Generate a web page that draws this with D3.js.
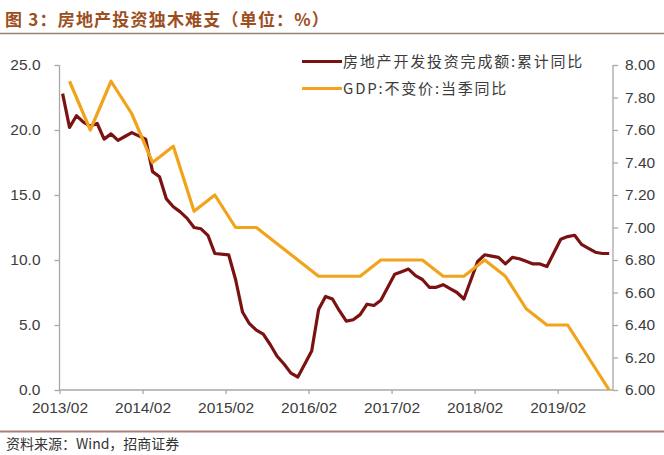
<!DOCTYPE html>
<html><head><meta charset="utf-8">
<script src="https://cdnjs.cloudflare.com/ajax/libs/d3/7.8.5/d3.min.js"></script>
<style>body{margin:0;background:#fff;}svg{display:block;}</style>
</head><body>
<script>
// ---- data ----
const invDates = ["2013/02","2013/03","2013/04","2013/05","2013/06","2013/07","2013/08","2013/09","2013/10","2013/11","2013/12",
"2014/02","2014/03","2014/04","2014/05","2014/06","2014/07","2014/08","2014/09","2014/10","2014/11","2014/12",
"2015/02","2015/03","2015/04","2015/05","2015/06","2015/07","2015/08","2015/09","2015/10","2015/11","2015/12",
"2016/02","2016/03","2016/04","2016/05","2016/06","2016/07","2016/08","2016/09","2016/10","2016/11","2016/12",
"2017/02","2017/03","2017/04","2017/05","2017/06","2017/07","2017/08","2017/09","2017/10","2017/11","2017/12",
"2018/02","2018/03","2018/04","2018/05","2018/06","2018/07","2018/08","2018/09","2018/10","2018/11","2018/12",
"2019/02","2019/03","2019/04","2019/05","2019/06","2019/07","2019/08","2019/09"];
const invValues = [22.8,20.2,21.1,20.6,20.3,20.5,19.3,19.7,19.2,19.5,19.8,
19.3,16.8,16.4,14.7,14.1,13.7,13.2,12.5,12.4,11.9,10.5,
10.4,8.5,6.0,5.1,4.6,4.3,3.5,2.6,2.0,1.3,1.0,
3.0,6.2,7.2,7.0,6.1,5.3,5.4,5.8,6.6,6.5,6.9,
8.9,9.1,9.3,8.8,8.5,7.9,7.9,8.1,7.8,7.5,7.0,
9.9,10.4,10.3,10.2,9.7,10.2,10.1,9.9,9.7,9.7,9.5,
11.6,11.8,11.9,11.2,10.9,10.6,10.5,10.5];
const gdpDates = ["2013/03","2013/06","2013/09","2013/12","2014/03","2014/06","2014/09","2014/12",
"2015/03","2015/06","2015/09","2015/12","2016/03","2016/06","2016/09","2016/12",
"2017/03","2017/06","2017/09","2017/12","2018/03","2018/06","2018/09","2018/12",
"2019/03","2019/06","2019/09"];
const gdpValues = [7.9,7.6,7.9,7.7,7.4,7.5,7.1,7.2,7.0,7.0,6.9,6.8,6.7,6.7,6.7,6.8,6.8,6.8,6.7,6.7,6.8,6.7,6.5,6.4,6.4,6.2,6.0];
const xTickLabels = ["2013/02","2014/02","2015/02","2016/02","2017/02","2018/02","2019/02"];
const leftTicks = [0,5,10,15,20,25];
const rightTicks = [6.0,6.2,6.4,6.6,6.8,7.0,7.2,7.4,7.6,7.8,8.0];
const seriesNames = ["房地产开发投资完成额:累计同比","GDP:不变价:当季同比"];
const titleText = "图 3：房地产投资独木难支（单位：%）";
const sourceText = "资料来源：Wind，招商证券";

// ---- layout ----
const W = 664, H = 455;
const colors = ["#7a1212", "#f2a31c"];
const monthIdx = s => { const [y,m] = s.split("/").map(Number); return (y-2013)*12 + (m-2); };

const svg = d3.select("body").append("svg").attr("width", W).attr("height", H);
const x = d3.scaleLinear().domain([0, 80]).range([59.5, 613]);
const yL = d3.scaleLinear().domain([0, 25]).range([390, 65]);
const yR = d3.scaleLinear().domain([6, 8]).range([390, 65]);
const axisColor = "#a8a8a8", textColor = "#3c3c3c";
const numFont = "'Liberation Sans', Arial, sans-serif";
const cjkFont = "'Noto Sans CJK SC', 'Liberation Sans', sans-serif";

// title
svg.append("text").attr("x", 5).attr("y", 26).text(titleText)
  .attr("font-family", cjkFont).attr("font-weight", 700).attr("font-size", 17)
  .attr("letter-spacing", 1.2).attr("fill", "#9c4e1e");
svg.append("line").attr("x1", 0).attr("x2", W).attr("y1", 33.5).attr("y2", 33.5)
  .attr("stroke", "#9a8070").attr("stroke-width", 1.5);

// axes
const gL = svg.append("g").attr("transform", "translate(59.5,0)")
  .call(d3.axisLeft(yL).tickValues(leftTicks).tickFormat(d3.format(".1f")).tickSize(5).tickPadding(14));
const gR = svg.append("g").attr("transform", "translate(613,0)")
  .call(d3.axisRight(yR).tickValues(rightTicks).tickFormat(d3.format(".2f")).tickSize(5).tickPadding(7));
const gX = svg.append("g").attr("transform", "translate(0,390)")
  .call(d3.axisBottom(x).tickValues(xTickLabels.map(monthIdx)).tickFormat((d,i) => xTickLabels[i]).tickSize(4).tickPadding(8));
[gL, gR, gX].forEach(g => {
  g.selectAll("path").attr("stroke", axisColor).attr("stroke-width", 1.3);
  g.selectAll("line").attr("stroke", axisColor).attr("stroke-width", 1.3);
  g.selectAll("text").attr("font-family", numFont).attr("font-size", 15.5).attr("fill", textColor);
});
gL.select("path").attr("d", "M0,65V390");
gR.select("path").attr("d", "M0,65V390");
gX.select("path").attr("d", "M59.5,0H613");

// lines
const lineL = d3.line().x(d => x(d[0] + 0.45)).y(d => yL(d[1]));
const lineR = d3.line().x(d => x(d[0] + 0.45)).y(d => yR(d[1]));
svg.append("path").datum(invDates.map((d,i) => [monthIdx(d), invValues[i]]))
  .attr("d", lineL).attr("fill", "none").attr("stroke", colors[0]).attr("stroke-width", 3.2).attr("stroke-linejoin", "round");
svg.append("path").datum(gdpDates.map((d,i) => [monthIdx(d), gdpValues[i]]))
  .attr("d", lineR).attr("fill", "none").attr("stroke", colors[1]).attr("stroke-width", 3.2).attr("stroke-linejoin", "round");

// legend
seriesNames.forEach((n, i) => {
  const yy = 61.5 + i * 27;
  svg.append("line").attr("x1", 302).attr("x2", 342).attr("y1", yy).attr("y2", yy)
    .attr("stroke", colors[i]).attr("stroke-width", 3.2);
  svg.append("text").attr("x", 343).attr("y", yy + 5.5).text(n)
    .attr("font-family", cjkFont).attr("font-size", 15).attr("letter-spacing", 1.8).attr("fill", textColor);
});

// source
svg.append("line").attr("x1", 0).attr("x2", W).attr("y1", 431.5).attr("y2", 431.5)
  .attr("stroke", "#a88080").attr("stroke-width", 2);
svg.append("text").attr("x", 6).attr("y", 449).text(sourceText)
  .attr("font-family", cjkFont).attr("font-size", 14).attr("fill", "#333");
</script>
</body></html>
